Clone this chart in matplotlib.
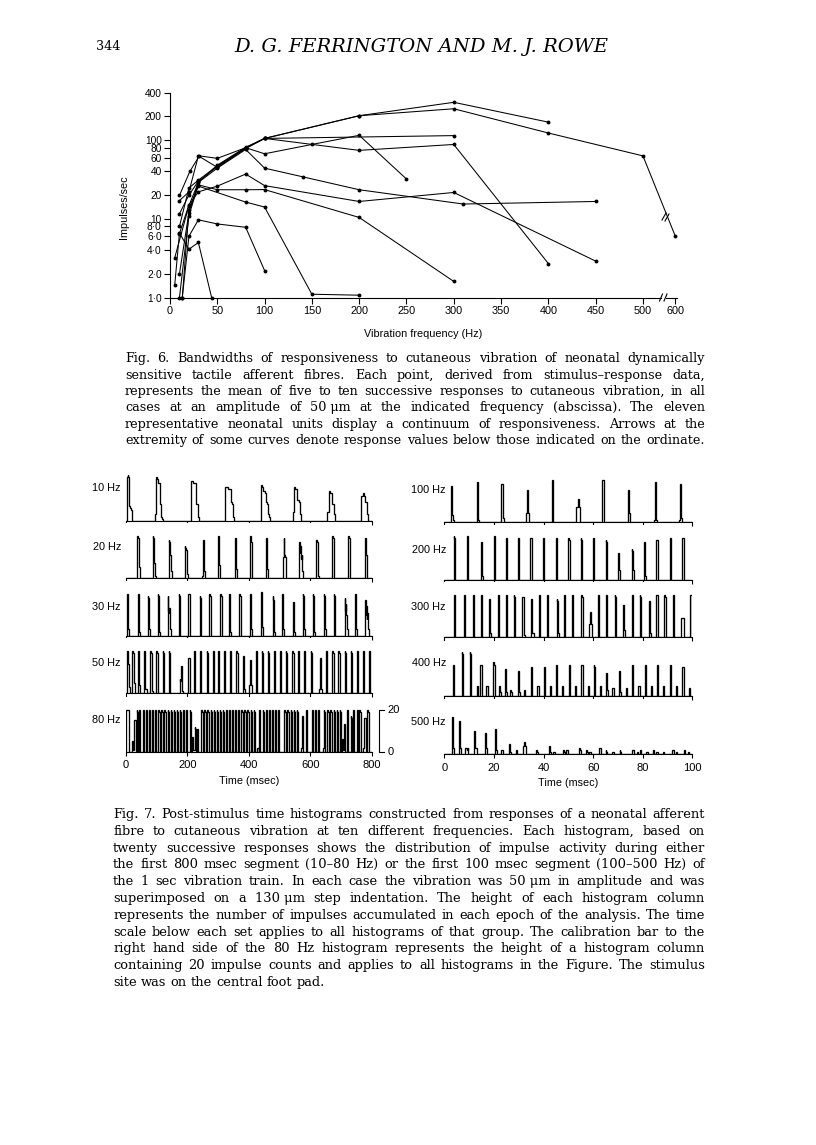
import matplotlib
matplotlib.use('Agg')
import matplotlib.pyplot as plt
from matplotlib.lines import Line2D
from matplotlib.ticker import NullLocator
import numpy as np

W, H = 816, 1145
SANS = ['Liberation Sans', 'DejaVu Sans']
SERIF = ['DejaVu Serif']

# ---------------- Fig. 6 : impulses/sec against vibration frequency, 11 units
u1_f = [10, 20, 30, 50, 80, 100, 200, 300, 400]
u1_r = [8.0, 24.6, 31, 47, 80, 105, 204, 302, 169]
u2_f = [10, 20, 30, 50, 80, 100, 200, 300, 400, 500, 600]
u2_r = [11.6, 20, 30, 46, 79, 105, 204, 250, 123, 63, 6.1]
u3_f = [5, 20, 30, 50, 80, 100, 300]
u3_r = [3.2, 14.7, 29, 48, 81, 105, 114]
u4_f = [10, 21, 31, 50, 80, 100, 150, 200, 250]
u4_r = [19.8, 40, 63, 58.6, 80, 67, 88, 115, 32]
u5_f = [10, 20, 30, 50, 80, 100, 200, 300, 400]
u5_r = [17, 22, 63, 45, 78, 105, 74, 88, 2.7]
u6_f = [10, 20, 30, 50, 80, 100, 141, 200, 310, 450]
u6_r = [2.0, 12, 29, 44, 76, 44, 34, 23.4, 15.4, 16.6]
u7_f = [10, 20, 30, 50, 80, 100, 200, 300, 450]
u7_r = [6.5, 15, 22, 26, 37, 26.4, 16.6, 21.6, 2.9]
u8_f = [10, 20, 30, 50, 80, 100, 200, 300]
u8_r = [1.0, 11, 27, 23.4, 23.4, 23.5, 10.4, 1.6]
u9_f = [13, 20, 30, 80, 100, 150, 200]
u9_r = [1.0, 13, 26, 16.3, 14.1, 1.1, 1.07]
u10_f = [13, 20, 30, 50, 80, 100]
u10_r = [1.0, 6.0, 9.7, 8.6, 7.8, 2.2]
u11_f = [5, 10, 20, 30, 44]
u11_r = [1.44, 6.6, 4.1, 5.0, 1.0]
units = [(u1_f, u1_r), (u2_f, u2_r), (u3_f, u3_r), (u4_f, u4_r), (u5_f, u5_r),
         (u6_f, u6_r), (u7_f, u7_r), (u8_f, u8_r), (u9_f, u9_r), (u10_f, u10_r),
         (u11_f, u11_r)]

y6_ticks = [1, 2, 4, 6, 8, 10, 20, 40, 60, 80, 100, 200, 400]
y6_labels = ['1·0', '2·0', '4·0', '6·0', '8·0', '10', '20', '40', '60', '80', '100', '200', '400']
x6_ticks = [0, 50, 100, 150, 200, 250, 300, 350, 400, 450, 500, 600]

# ---------------- Fig. 7 : post-stimulus time histograms
# each entry: (onset msec, counts in successive bins)
p10 = [(4, [21, 22, 21, 7, 7, 6, 6, 5]),
       (97, [3, 21, 21, 20, 19, 18, 18, 9, 8, 7, 2, 1]),
       (212, [19, 19, 19, 18, 18, 18, 18, 18, 9, 8, 8, 3, 2]),
       (325, [16, 16, 16, 16, 15, 15, 15, 15, 15, 9, 9, 8, 2, 2]),
       (439, [17, 17, 16, 15, 14, 14, 14, 13, 9, 9, 8, 8, 3, 2]),
       (543, [4, 4, 16, 16, 15, 15, 14, 10, 10, 10, 9, 3, 3]),
       (656, [4, 4, 14, 14, 14, 13, 13, 8, 8, 8, 8, 3, 3]),
       (764, [12, 12, 12, 12, 13, 13, 12, 9, 9, 9, 3, 3])]
p20 = [(36, [20, 20, 19, 5, 5, 2]), (88, [20, 19, 7, 6, 1]), (139, [18, 17, 11, 10, 3]),
       (193, [15, 14, 13, 12, 2]), (248, [1, 18, 18, 15, 3]), (301, [20, 19, 6, 2]),
       (356, [19, 18, 4]), (404, [20, 19, 17, 3]), (456, [19, 18, 4, 2]),
       (511, [10, 19, 11, 10, 3]), (563, [17, 12, 15, 9, 11, 3]), (619, [18, 17, 3, 1]),
       (673, [20, 19, 5]), (724, [20, 19, 4]), (778, [19, 18, 11, 3])]
p30 = [(5, [20, 19, 3, 1]), (41, [20, 20, 2]), (71, [19, 18, 3]), (104, [20, 19, 2]),
       (137, [19, 12, 11, 13, 3]), (171, [20, 19, 2]), (204, [20, 20, 3]), (240, [19, 18, 2]),
       (272, [20, 19, 4]), (307, [20, 19, 3]), (337, [20, 19, 2]), (370, [20, 19, 3]),
       (404, [20, 20, 3]), (439, [21, 20, 4]), (478, [19, 17, 2]), (507, [20, 19, 3]),
       (543, [16, 15, 2]), (576, [20, 19, 3]), (607, [20, 19, 2]), (643, [20, 19, 3]),
       (675, [20, 19, 4]), (711, [18, 12, 15, 10, 3]), (746, [20, 19, 3]),
       (778, [17, 10, 14, 8, 11, 3])]
p50 = [(3, [20, 20, 14, 14, 3]), (22, [20, 19, 5, 5]), (41, [20, 19, 4, 3]), (61, [20, 19, 2, 2]),
       (81, [20, 19, 2, 1]), (101, [20, 19, 1]), (120, [20, 19, 1]), (140, [20, 19]),
       (175, [7, 6, 13, 12, 1]), (202, [2, 17, 17, 2]), (222, [20, 19]), (242, [20, 19]),
       (263, [20, 19]), (283, [20, 19]), (301, [20, 19]), (321, [20, 19]), (341, [20, 19]),
       (361, [20, 19]), (381, [2, 18, 17, 2]), (402, [4, 16, 15, 4]), (423, [20, 19]),
       (442, [20, 19]), (462, [20, 19]), (482, [20, 19]), (502, [20, 19]), (521, [20, 19]),
       (542, [20, 19]), (561, [20, 19]), (581, [20, 19]), (602, [20, 19]), (630, [2, 17, 17, 2]),
       (651, [20, 19]), (672, [20, 19]), (692, [20, 19]), (711, [20, 19]), (732, [20, 19]),
       (751, [20, 19]), (771, [20, 19]), (791, [20, 19])]
p80 = [(1, [20, 20]), (5, [20, 20]), (9, [20, 20]), (19, [5, 5, 1, 1, 15, 15]), (35, [20, 19]),
       (45, [20, 19]), (55, [20, 19]), (66, [20, 19]), (76, [20, 19]), (86, [20, 19]),
       (96, [20, 19]), (106, [20, 19]), (116, [20, 19]), (126, [20, 19]), (136, [20, 19]),
       (146, [20, 19]), (156, [20, 19]), (166, [20, 19]), (176, [20, 19]), (186, [20, 19]),
       (196, [20, 19]), (207, [20, 19]), (217, [7, 7, 1, 1, 12, 11]), (233, [11, 11]),
       (246, [20, 19]), (256, [20, 19]), (266, [20, 19]), (276, [20, 19]), (286, [20, 19]),
       (296, [20, 19]), (306, [20, 19]), (316, [20, 19]), (326, [20, 19]), (336, [20, 19]),
       (346, [20, 19]), (356, [20, 19]), (366, [20, 19]), (376, [20, 19]), (386, [20, 19]),
       (396, [20, 19]), (406, [20, 19]), (416, [20, 19]), (429, [2, 2, 0, 20, 19]),
       (446, [20, 19]), (456, [20, 19]), (466, [20, 19]), (476, [20, 19]), (486, [20, 19]),
       (496, [20, 19]), (516, [20, 19]), (526, [20, 19]), (536, [20, 19]), (546, [20, 19]),
       (556, [20, 19]), (570, [2, 17, 17]), (586, [20, 19]), (606, [20, 19]), (616, [20, 19]),
       (626, [20, 19]), (641, [2, 2, 20, 19]), (656, [20, 19]), (666, [20, 19]),
       (676, [20, 19]), (686, [20, 19]), (696, [20, 19]), (705, [6, 6, 1, 13, 12]),
       (721, [20, 19]), (731, [17, 16]), (741, [20, 19]), (751, [20, 19]), (761, [20, 19]),
       (772, [2, 2, 16, 16]), (786, [20, 19])]
p100 = [(2.6, [17, 17, 3, 3, 1]), (13.2, [19, 19, 1]), (23.0, [18, 18, 2, 2]),
        (32.8, [4, 4, 15, 15, 4]), (43.4, [20, 20]), (53.2, [7, 7, 11, 11, 8, 7]),
        (63.8, [20, 20]), (74.1, [15, 15, 4, 4]), (84.7, [1, 19, 19, 1]), (94.7, [1, 18, 18, 2])]
p200 = [(3.8, [21, 20]), (9.3, [21, 20]), (14.7, [18, 18, 2, 2]), (19.9, [21, 20]),
        (24.8, [20, 20]), (29.7, [20, 20]), (34.8, [20, 20]), (39.8, [20, 20]), (44.9, [20, 19]),
        (49.9, [20, 19]), (54.9, [20, 19]), (60.0, [20, 19]), (65.1, [19, 18, 1]),
        (70.0, [13, 13, 5, 5]), (75.4, [15, 14, 5, 5]), (80.5, [18, 17, 2, 1]),
        (85.5, [19, 19, 1]), (90.9, [20, 20]), (96.0, [20, 20])]
p300 = [(4.0, [20, 20]), (7.9, [20, 20]), (11.4, [20, 20]), (14.7, [20, 19]),
        (18.1, [18, 18, 2, 2]), (21.4, [20, 20]), (24.8, [20, 20]), (28.1, [20, 19]),
        (31.5, [19, 19, 1, 1]), (34.9, [18, 17, 2, 2]), (38.2, [20, 20]), (41.6, [20, 19]),
        (45.2, [18, 17, 2, 2]), (48.3, [20, 20]), (51.6, [20, 20]), (55.3, [20, 19]),
        (58.4, [6, 12, 12, 6, 6]), (62.0, [20, 20]), (65.3, [20, 20]), (68.7, [20, 19]),
        (72.1, [15, 15, 3, 3]), (75.4, [20, 20]), (78.8, [20, 19]), (82.5, [17, 17, 2, 2]),
        (85.5, [20, 20]), (88.8, [20, 19]), (92.2, [20, 19]), (95.5, [9, 9, 9, 9, 8]),
        (99.3, [20, 20])]
p400 = [(3.6, [15, 15]), (7.0, [21, 20]), (10.3, [21, 20]), (13.0, [5, 5]), (14.6, [15, 15, 1]),
        (17.0, [5, 5]), (19.7, [16, 15, 1]), (22.1, [5, 5, 2, 2]), (24.4, [13, 12, 2]),
        (26.4, [3, 3, 2]), (29.8, [12, 12, 2]), (32.0, [3, 3]), (35.1, [14, 14]), (37.6, [5, 5]),
        (40.1, [14, 14]), (42.5, [5, 5]), (44.9, [15, 15]), (47.6, [5, 5]), (50.2, [15, 15]),
        (52.6, [5, 5]), (55.3, [15, 15]), (57.7, [5, 5]), (60.3, [15, 14]), (62.7, [5, 5]),
        (65.1, [11, 11, 3, 3]), (67.7, [4, 4, 2]), (70.5, [12, 12, 2]), (73.2, [4, 4]),
        (75.7, [15, 15]), (78.2, [5, 5]), (80.9, [15, 15]), (83.3, [5, 5]), (85.8, [15, 15]),
        (88.2, [5, 5]), (90.9, [15, 14]), (93.4, [5, 5]), (96.0, [14, 14]), (98.5, [4, 4])]
p500 = [(2.9, [18, 18, 3, 3]), (6.0, [16, 16, 3]), (8.6, [3, 3, 3, 2, 3]), (11.9, [11, 11, 3, 3]),
        (16.3, [10, 10, 4, 3]), (20.3, [12, 12, 3, 2]), (23.0, [2, 2]), (26.1, [5, 5, 1]),
        (29.0, [2, 2]), (31.7, [4, 6, 6, 4]), (37.0, [2, 2, 1]), (42.2, [4, 3, 1]),
        (43.9, [1, 1]), (47.9, [2, 1]), (49.2, [2, 2]), (54.3, [3, 3, 2, 1]), (57.3, [2, 1]),
        (58.6, [1, 1]), (62.4, [3, 3, 2]), (65.1, [2, 1]), (67.8, [1, 1]), (70.7, [2, 1]),
        (75.8, [2, 2, 2]), (77.7, [1, 1]), (79.1, [2, 1]), (81.5, [1, 1]), (84.2, [2, 1]),
        (85.5, [1, 1]), (88.2, [1, 1]), (92.0, [2, 2, 1]), (93.6, [1, 1]), (96.5, [2, 2]),
        (98.3, [1, 1])]

left_rows = [('10 Hz', p10), ('20 Hz', p20), ('30 Hz', p30), ('50 Hz', p50), ('80 Hz', p80)]
right_rows = [('100 Hz', p100), ('200 Hz', p200), ('300 Hz', p300), ('400 Hz', p400), ('500 Hz', p500)]
left_ticks = [0, 200, 400, 600, 800]
right_ticks = [0, 20, 40, 60, 80, 100]

cap6 = ["Fig. 6. Bandwidths of responsiveness to cutaneous vibration of neonatal dynamically",
        "sensitive tactile afferent fibres. Each point, derived from stimulus–response data,",
        "represents the mean of five to ten successive responses to cutaneous vibration, in all",
        "cases at an amplitude of 50_μm at the indicated frequency (abscissa). The eleven",
        "representative neonatal units display a continuum of responsiveness. Arrows at the",
        "extremity of some curves denote response values below those indicated on the ordinate."]
cap7 = ["Fig. 7. Post-stimulus time histograms constructed from responses of a neonatal afferent",
        "fibre to cutaneous vibration at ten different frequencies. Each histogram, based on",
        "twenty successive responses shows the distribution of impulse activity during either",
        "the first 800 msec segment (10–80 Hz) or the first 100 msec segment (100–500 Hz) of",
        "the 1 sec vibration train. In each case the vibration was 50_μm in amplitude and was",
        "superimposed on a 130_μm step indentation. The height of each histogram column",
        "represents the number of impulses accumulated in each epoch of the analysis. The time",
        "scale below each set applies to all histograms of that group. The calibration bar to the",
        "right hand side of the 80 Hz histogram represents the height of a histogram column",
        "containing 20 impulse counts and applies to all histograms in the Figure. The stimulus",
        "site was on the central foot pad."]


def rect(x0, ytop, x1, ybot):
    return [x0 / W, 1 - ybot / H, (x1 - x0) / W, (ybot - ytop) / H]


def xpos(f):
    f = np.asarray(f, dtype=float)
    return np.where(f <= 500, f, 500 + (f - 500) * 0.34)


def figline(xs, ys, lw=0.8):
    fig.add_artist(Line2D([x / W for x in xs], [1 - y / H for y in ys],
                          color='k', lw=lw, transform=fig.transFigure))


fig = plt.figure(figsize=(8.16, 11.45), dpi=100)
r = fig.canvas.get_renderer()
FS = 7.3

# header
fig.text(96 / W, 1 - 47 / H, '344', family=SERIF, fontsize=9.2, va='center')
fig.text(421 / W, 1 - 47 / H, 'D. G. FERRINGTON AND M. J. ROWE', family=SERIF,
         style='italic', fontsize=14, ha='center', va='center')

# ---- Fig. 6 axes
ax = fig.add_axes(rect(170, 92.7, 677, 297.5))
ax.set_yscale('log')
ax.set_ylim(1, 400)
ax.set_xlim(0, 536)
for f, v in units:
    ax.plot(xpos(f), v, color='k', lw=0.75, marker='o', ms=1.8, clip_on=False)
ax.set_yticks(y6_ticks, y6_labels)
ax.yaxis.set_minor_locator(NullLocator())
ax.set_xticks(xpos(x6_ticks), [str(v) for v in x6_ticks])
for s in ['top', 'right', 'bottom']:
    ax.spines[s].set_visible(False)
ax.spines['left'].set_linewidth(0.8)
ax.tick_params(direction='out', length=4, width=0.8, labelsize=FS + 0.5, pad=2)
ax.tick_params(axis='y', labelsize=FS)
for lab in ax.get_xticklabels() + ax.get_yticklabels():
    lab.set_family(SANS)
# broken abscissa
ax.plot([0, 519], [1, 1], color='k', lw=0.8, clip_on=False)
ax.plot([524, 536], [1, 1], color='k', lw=0.8, clip_on=False)
figline([659.5, 662.5], [301, 294])
figline([664, 667], [301, 294])
figline([662, 666], [220, 213])
figline([665, 669], [221, 214])
fig.text(124 / W, 1 - 207 / H, 'Impulses/sec', rotation=90, family=SANS, fontsize=FS + 0.5,
         ha='center', va='center')
fig.text(423 / W, 1 - 334 / H, 'Vibration frequency (Hz)', family=SANS, fontsize=FS + 0.5,
         ha='center', va='center')

# ---- Fig. 7 histograms
left_base = [520.7, 577.7, 635.7, 693.3, 751.7]
left_lab_y = [488, 547, 607, 663, 720]
right_base = [521.7, 580, 636.7, 696, 754.3]
right_lab_y = [490, 550, 607, 663, 722]


def histo(box, peaks, span, bw, ticks, last, label, lx, ly):
    a = fig.add_axes(box)
    n = int(round(span / bw))
    counts = np.zeros(n)
    for t, prof in peaks:
        i = int(round(t / bw))
        counts[i:i + len(prof)] = prof[:n - i]
    a.stairs(counts, np.arange(n + 1) * bw, color='k', lw=0.95, baseline=0)
    a.set_xlim(0, span)
    a.set_ylim(0, 55 / 2.1)
    for s in ['top', 'right', 'left']:
        a.spines[s].set_visible(False)
    a.spines['bottom'].set_linewidth(0.8)
    a.set_yticks([])
    a.set_xticks(ticks)
    a.tick_params(axis='x', direction='out', length=3, width=0.8, labelsize=FS + 0.7, pad=3)
    if last:
        for lab in a.get_xticklabels():
            lab.set_family(SANS)
        a.set_xlabel('Time (msec)', family=SANS, fontsize=FS + 0.5, labelpad=4)
    else:
        a.set_xticklabels([])
    fig.text(lx / W, 1 - ly / H, label, family=SANS, fontsize=FS + 0.5, ha='right', va='center')
    return a


for k, (lab, pk) in enumerate(left_rows):
    a = histo(rect(125.7, left_base[k] - 55, 371.7, left_base[k]), pk, 800, 2.0,
              left_ticks, k == 4, lab, 121, left_lab_y[k])
    if k == 4:
        # calibration bar: 20 impulse counts
        a.plot([840, 825, 825, 840], [20, 20, 0, 0], color='k', lw=0.8, clip_on=False)
        a.text(852, 20, '20', family=SANS, fontsize=FS + 0.7, va='center')
        a.text(852, 0, '0', family=SANS, fontsize=FS + 0.7, va='center')

for k, (lab, pk) in enumerate(right_rows):
    histo(rect(444.3, right_base[k] - 55, 692.3, right_base[k]), pk, 100, 0.25,
          right_ticks, k == 4, lab, 446, right_lab_y[k])


# ---- captions, justified line by line
def fit_size(lines, width):
    s = 10.5
    while s > 6:
        worst = 0
        for line in lines:
            t = fig.text(0, 0, line.replace('_', '\u00a0'), family=SERIF, fontsize=s)
            worst = max(worst, t.get_window_extent(r).width)
            t.remove()
        if worst <= width * 0.995:
            return s
        s -= 0.1
    return s


def caption(lines, x0, x1, y0, dy, full_last):
    size = fit_size(lines if full_last else lines[:-1], x1 - x0)
    for k, line in enumerate(lines):
        words = line.split(' ')
        ts = [fig.text(0, 0, w.replace('_', '\u00a0'), family=SERIF, fontsize=size,
                       va='baseline') for w in words]
        ws = [t.get_window_extent(r).width for t in ts]
        if k == len(lines) - 1 and not full_last:
            gap = size * 100 / 72 * 0.32
        else:
            gap = (x1 - x0 - sum(ws)) / (len(words) - 1)
        x = x0
        for t, w in zip(ts, ws):
            t.set_position((x / W, 1 - (y0 + k * dy + 4) / H))
            x += w + gap


caption(cap6, 125, 705, 358.3, 16.35, True)
caption(cap7, 113, 705, 814, 16.8, False)

fig.savefig('out.png', dpi=100)
